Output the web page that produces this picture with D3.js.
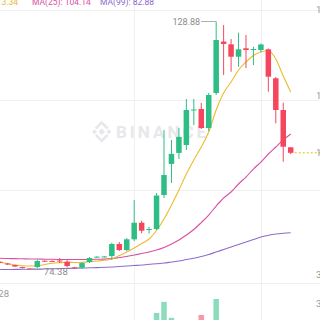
<!DOCTYPE html>
<html>
<head>
<meta charset="utf-8">
<script src="https://cdn.jsdelivr.net/npm/d3@7"></script>
<style>
  html, body { margin: 0; padding: 0; background: #fff; overflow: hidden; }
  svg { display: block; font-family: Roboto, "Liberation Sans", sans-serif; }
</style>
</head>
<body>
<svg id="chart"></svg>
<script>
// Bougies (indice 0 = bougie coupee au bord gauche)
const opens  = [76.05, 75.69, 75.36, 74.92, 74.59, 74.92, 76.30, 76.28, 76.35, 76.09,
                74.85, 74.77, 76.02, 77.10, 77.15, 77.34, 79.98, 78.66, 81.01, 84.66,
                83.10, 83.28, 90.75, 97.58, 100.00, 101.74, 109.32, 109.65, 105.47, 113.17,
                124.48, 123.87, 121.14, 122.99, 122.70, 122.62, 122.77, 116.40, 109.43, 101.23];
const highs  = [76.20, 75.80, 75.45, 75.00, 74.65, 76.57, 76.40, 76.35, 76.90, 76.46,
                74.95, 76.02, 77.10, 77.30, 77.35, 80.26, 80.42, 81.30, 89.65, 85.10,
                83.72, 91.19, 105.03, 102.84, 105.50, 111.85, 111.85, 110.97, 113.17, 128.88,
                128.11, 125.03, 126.42, 125.91, 123.34, 124.05, 122.95, 116.68, 111.03, 101.30];
const lows   = [75.80, 75.36, 74.95, 74.60, 74.38, 74.70, 76.10, 76.10, 75.80, 74.92,
                74.65, 74.48, 75.80, 77.00, 77.05, 76.46, 78.44, 78.44, 80.64, 82.33,
                82.29, 83.06, 90.09, 93.38, 98.68, 100.64, 106.13, 105.25, 104.80, 112.73,
                117.12, 117.85, 118.95, 118.66, 119.32, 122.18, 113.45, 106.51, 98.07, 99.70];
const closes = [75.90, 75.47, 75.03, 74.70, 74.48, 76.24, 76.20, 76.18, 76.13, 75.14,
                74.75, 75.80, 76.90, 77.20, 77.25, 79.98, 78.66, 81.01, 84.66, 82.90,
                83.28, 90.64, 95.14, 99.78, 103.52, 109.43, 109.54, 105.47, 112.73, 124.81,
                123.93, 121.14, 122.77, 122.62, 122.84, 123.83, 116.75, 109.43, 101.36, 100.02];
const volumes = [8, 7, 6, 6, 9, 14, 6, 5, 9, 11,
                 5, 12, 10, 5, 6, 30, 18, 22, 40, 25,
                 15, 66, 93, 54, 35, 45, 28, 61, 42, 100,
                 44, 35, 30, 26, 20, 18, 38, 42, 45, 12];

// Moyennes mobiles
const ma7  = [75.96, 75.69, 75.36, 75.21, 75.14, 75.21, 75.47, 75.74, 75.87, 75.96,
              75.91, 75.96, 76.09, 76.24, 76.40, 76.68, 77.45, 78.22, 79.10, 80.09,
              81.08, 82.95, 85.47, 88.55, 91.85, 95.36, 98.44, 101.30, 104.59, 109.43,
              113.17, 115.58, 118.22, 119.98, 121.41, 122.18, 122.51, 120.64, 116.90, 113.39];
const ma25 = [76.84, 76.79, 76.77, 76.73, 76.68, 76.68, 76.64, 76.62, 76.59, 76.57,
              76.57, 76.57, 76.59, 76.62, 76.66, 76.79, 77.01, 77.23, 77.56, 77.89,
              78.22, 78.66, 79.21, 79.98, 80.86, 81.96, 83.17, 84.70, 86.35, 88.33,
              90.09, 91.41, 93.17, 94.70, 96.46, 98.00, 99.76, 101.30, 102.84, 104.16];
const ma99 = [74.38, 74.38, 74.40, 74.42, 74.44, 74.47, 74.48, 74.53, 74.57, 74.62,
              74.66, 74.70, 74.75, 74.79, 74.86, 74.92, 75.03, 75.14, 75.25, 75.36,
              75.52, 75.63, 75.80, 76.02, 76.24, 76.57, 76.86, 77.23, 77.67, 78.22,
              78.77, 79.32, 79.87, 80.42, 80.97, 81.52, 81.89, 82.18, 82.35, 82.46];

const gridPrices = [131.4, 111.6, 91.8];
const priceLabels = [131.4, 112.5];
const legendTexts = ["MA(7): 113.34", "MA(25): 104.14", "MA(99): 82.88"];
const dateLabel = "28";
const volumeLabels = ["3", "3"];

const width = 320, height = 320;
const up = "#2EBD85", down = "#F6465D";
const maColors = ["#EDB92E", "#DA4FA0", "#8C6CCB"];

const svg = d3.select("#chart")
    .attr("width", width)
    .attr("height", height)
    .style("background", "#fff");

// Echelles
const x = d3.scaleLinear().domain([0, opens.length - 1]).range([0.05, 290.7]);
const y = d3.scaleLinear().domain([74.38, 128.88]).range([269.5, 21.5]);
const yVol = d3.scaleLinear().domain([0, 100]).range([340, 299]);

// Grille
svg.selectAll(".hgrid")
    .data(gridPrices)
    .enter().append("line")
    .attr("x1", 0).attr("x2", width)
    .attr("y1", d => Math.round(y(d)) + 0.5)
    .attr("y2", d => Math.round(y(d)) + 0.5)
    .style("stroke", "#f0f0f0");

svg.selectAll(".vgrid")
    .data([18, 35])
    .enter().append("line")
    .attr("x1", d => Math.round(x(d)) + 0.5)
    .attr("x2", d => Math.round(x(d)) + 0.5)
    .attr("y1", 0).attr("y2", height)
    .style("stroke", "#f0f0f0");

// separation prix / volume
svg.append("line")
    .attr("x1", 0).attr("x2", width)
    .attr("y1", 283.5).attr("y2", 283.5)
    .style("stroke", "#eeeeee");

// Filigrane BINANCE
const wm = svg.append("g").attr("transform", "translate(101.7,131.7)").style("fill", "#e6e8eb");
wm.append("rect").attr("x", -2.3).attr("y", -2.3).attr("width", 4.6).attr("height", 4.6)
    .attr("transform", "rotate(45)");
[-7.2, 7.2].forEach(dx => {
    wm.append("rect").attr("x", dx - 1.8).attr("y", -1.8).attr("width", 3.6).attr("height", 3.6)
        .attr("transform", `rotate(45 ${dx} 0)`);
});
wm.append("path").attr("d", "M-6,-3.2 L0,-9.2 L6,-3.2 M-6,3.2 L0,9.2 L6,3.2")
    .style("fill", "none").style("stroke", "#e6e8eb").style("stroke-width", 2.6);
svg.append("text")
    .attr("x", 116).attr("y", 137.5)
    .style("font-size", "17px").style("font-weight", "bold")
    .style("letter-spacing", "3px")
    .style("fill", "#e6e8eb")
    .text("BINANCE");

// Volumes
svg.selectAll(".vol")
    .data(volumes)
    .enter().append("rect")
    .attr("x", (d, i) => x(i) - 2.75)
    .attr("width", 5.5)
    .attr("y", d => yVol(d))
    .attr("height", d => yVol(0) - yVol(d))
    .style("fill", (d, i) => closes[i] >= opens[i] ? up : down)
    .style("opacity", 0.55);

// Moyennes mobiles
const line = d3.line().x((d, i) => x(i)).y(d => y(d)).curve(d3.curveMonotoneX);
[ma99, ma25, ma7].forEach((serie, k) => {
    svg.append("path")
        .datum(serie)
        .attr("d", line)
        .style("fill", "none")
        .style("stroke", maColors[2 - k])
        .style("stroke-width", 1.1);
});

// Bougies
const candles = svg.selectAll(".candle")
    .data(opens.map((o, i) => ({ i, o, h: highs[i], l: lows[i], c: closes[i] })))
    .enter().append("g")
    .attr("class", "candle");

candles.append("line")
    .attr("x1", d => x(d.i)).attr("x2", d => x(d.i))
    .attr("y1", d => y(d.h)).attr("y2", d => y(d.l))
    .style("stroke", d => d.c >= d.o ? up : down)
    .style("stroke-width", 1);

candles.append("rect")
    .attr("x", d => x(d.i) - 2.75)
    .attr("width", 5.5)
    .attr("y", d => y(Math.max(d.o, d.c)))
    .attr("height", d => Math.max(1, Math.abs(y(d.o) - y(d.c))))
    .style("fill", d => d.c >= d.o ? up : down);

// Plus haut / plus bas
const iMax = d3.maxIndex(highs), iMin = d3.minIndex(lows);
svg.append("line")
    .attr("x1", x(iMax) - 15).attr("x2", x(iMax))
    .attr("y1", y(highs[iMax])).attr("y2", y(highs[iMax]))
    .style("stroke", "#999").style("stroke-width", 0.8);
svg.append("text")
    .attr("x", x(iMax) - 16).attr("y", y(highs[iMax]))
    .attr("text-anchor", "end").attr("dy", "0.35em")
    .style("font-size", "9px").style("fill", "#8c8c8c")
    .text(highs[iMax].toFixed(2));

svg.append("line")
    .attr("x1", x(iMin)).attr("x2", x(iMin) + 13)
    .attr("y1", y(lows[iMin])).attr("y2", y(lows[iMin]))
    .style("stroke", "#999").style("stroke-width", 0.8);
svg.append("text")
    .attr("x", x(iMin) + 14).attr("y", y(lows[iMin]) + 2)
    .attr("dy", "0.35em")
    .style("font-size", "9.5px").style("fill", "#8c8c8c")
    .text(lows[iMin].toFixed(2));

// Prix courant
const last = closes[closes.length - 1];
svg.append("line")
    .attr("x1", x(closes.length - 1) + 4).attr("x2", width)
    .attr("y1", y(last)).attr("y2", y(last))
    .style("stroke", "#F0B90B").style("stroke-dasharray", "2,2");

// Axe de droite (coupe par le bord)
svg.selectAll(".plabel")
    .data(priceLabels.concat([last]))
    .enter().append("text")
    .attr("x", 316).attr("y", d => y(d))
    .attr("dy", "0.35em")
    .style("font-size", "9.5px").style("fill", "#999")
    .text(d => d.toFixed(2));

svg.selectAll(".vlabel")
    .data(volumeLabels)
    .enter().append("text")
    .attr("x", 316).attr("y", (d, i) => [275, 304][i])
    .attr("dy", "0.35em")
    .style("font-size", "9.5px").style("fill", "#999")
    .text(d => d + ".00M");

// Date
svg.append("text")
    .attr("x", 9).attr("y", 294)
    .attr("text-anchor", "end").attr("dy", "0.35em")
    .style("font-size", "9.5px").style("fill", "#999")
    .text(dateLabel);

// Legende MA (coupee en haut)
const legendX = [18, 32, 100];
svg.selectAll(".legend")
    .data(legendTexts)
    .enter().append("text")
    .attr("x", (d, i) => legendX[i])
    .attr("y", 5)
    .attr("text-anchor", (d, i) => i === 0 ? "end" : "start")
    .style("font-size", "8.5px")
    .style("fill", (d, i) => maColors[i])
    .text(d => d);
</script>
</body>
</html>
